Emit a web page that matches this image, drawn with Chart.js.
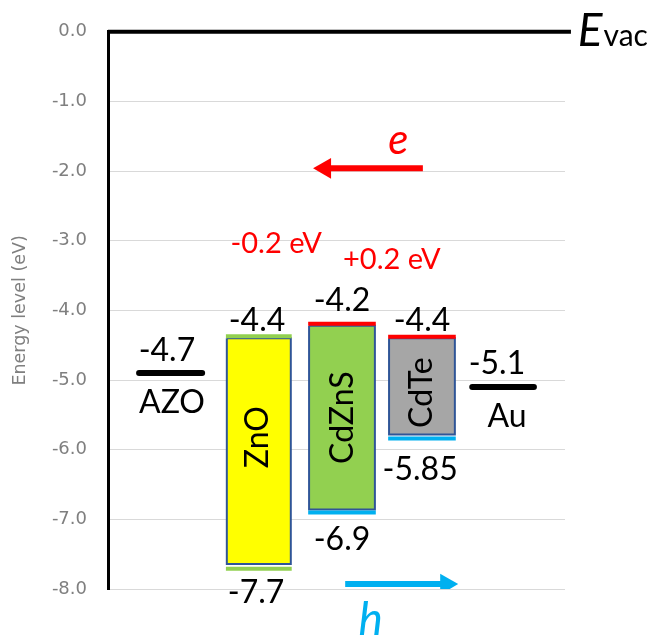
<!DOCTYPE html>
<html>
<head>
<meta charset="utf-8">
<script src="https://cdn.jsdelivr.net/npm/chart.js@4.4.1/dist/chart.umd.min.js"></script>
<style>
  html, body { margin: 0; padding: 0; background: #fff; }
  #wrap { width: 651px; height: 636px; }
</style>
</head>
<body>
<div id="wrap"><canvas id="bands" width="651" height="636"></canvas></div>
<script>
"use strict";

// layers, left to right
var materials = ['AZO', 'ZnO', 'CdZnS', 'CdTe', 'Au'];
var xFrom = [0.68, 2.6, 4.4, 6.15, 7.97];
var xTo = [2.06, 4.0, 5.84, 7.59, 9.32];
// levels as drawn (eV)
var upperLevel = [-4.9, -4.4, -4.22, -4.4, -5.1];
var lowerLevel = [null, -7.64, -6.86, -5.78, null];
var upperEdge = [null, -4.37, -4.19, -4.38, null];
var lowerEdge = [null, -7.71, -6.9, -5.84, null];
// printed values
var upperText = ['-4.7', '-4.4', '-4.2', '-4.4', '-5.1'];
var lowerText = ['AZO', '-7.7', '-6.9', '-5.85', 'Au'];
var offsetText = ['-0.2 eV', '+0.2 eV'];
// axis
var yMin = -8, yMax = 0, yStep = 1;
var vacuumLevel = 0;
// carrier arrows: [tail, head]
var electronX = [6.89, 4.75], electronY = -1.96;
var holeX = [5.19, 7.40], holeY = -7.93;

var fillColors = [null, '#FFFF00', '#92D050', '#A6A6A6', null];
var upperEdgeColors = [null, '#92D050', '#FF0000', '#FF0000', null];
var lowerEdgeColors = [null, '#92D050', '#00B0F0', '#00B0F0', null];

var datasets = [];

// vacuum level
datasets.push({
  data: [{x: 0, y: vacuumLevel}, {x: 10.13, y: vacuumLevel}],
  borderColor: '#000', borderWidth: 4, pointRadius: 0, clip: false, order: 0
});

materials.forEach(function (m, i) {
  if (lowerLevel[i] == null) {
    // metal / TCO work function
    datasets.push({
      data: [{x: xFrom[i], y: upperLevel[i]}, {x: xTo[i], y: upperLevel[i]}],
      borderColor: '#000', borderWidth: 6, borderCapStyle: 'round',
      pointRadius: 0, order: 1
    });
    return;
  }
  datasets.push({
    data: [
      {x: xFrom[i], y: upperLevel[i]}, {x: xTo[i], y: upperLevel[i]},
      {x: xTo[i], y: lowerLevel[i]}, {x: xFrom[i], y: lowerLevel[i]},
      {x: xFrom[i], y: upperLevel[i]}
    ],
    fill: 'shape', backgroundColor: fillColors[i],
    borderColor: '#2F5597', borderWidth: 2, pointRadius: 0, order: 3
  });
  datasets.push({
    data: [{x: xFrom[i] - 0.02, y: upperEdge[i]}, {x: xTo[i] + 0.02, y: upperEdge[i]}],
    borderColor: upperEdgeColors[i], borderWidth: 4, pointRadius: 0, order: 2
  });
  datasets.push({
    data: [{x: xFrom[i] - 0.02, y: lowerEdge[i]}, {x: xTo[i] + 0.02, y: lowerEdge[i]}],
    borderColor: lowerEdgeColors[i], borderWidth: 4, pointRadius: 0, order: 2
  });
});

// arrows
[[electronX, electronY, '#FF0000', 270], [holeX, holeY, '#00B0F0', 90]].forEach(function (a) {
  datasets.push({
    data: [{x: a[0][0], y: a[1]}, {x: a[0][1], y: a[1]}],
    borderColor: a[2], borderWidth: 6, borderCapStyle: 'butt',
    pointRadius: [0, 12], pointStyle: 'triangle', rotation: [0, a[3]],
    pointBackgroundColor: a[2], pointBorderWidth: 0, pointBorderColor: a[2],
    order: 0
  });
});

var numFont = '32px Lato';
var notes = [
  {text: upperText[0], x: 1.29, y: -4.72, font: numFont},
  {text: lowerText[0], x: 1.40, y: -5.47, font: numFont},
  {text: upperText[1], x: 3.26, y: -4.29, font: numFont},
  {text: upperText[2], x: 5.12, y: -4.01, font: numFont},
  {text: upperText[3], x: 6.87, y: -4.29, font: numFont},
  {text: upperText[4], x: 8.51, y: -4.91, font: numFont},
  {text: lowerText[4], x: 8.73, y: -5.68, font: numFont},
  {text: lowerText[1], x: 3.24, y: -8.20, font: numFont},
  {text: lowerText[2], x: 5.12, y: -7.44, font: numFont},
  {text: lowerText[3], x: 6.83, y: -6.44, font: numFont},
  {text: offsetText[0], x: 3.68, y: -3.18, font: '29px Lato', color: '#FF0000'},
  {text: offsetText[1], x: 6.21, y: -3.41, font: '29px Lato', color: '#FF0000'},
  {text: materials[1], x: 3.28, y: -5.82, font: numFont, rotate: -Math.PI / 2, baseline: 'middle'},
  {text: materials[2], x: 5.14, y: -5.54, font: numFont, rotate: -Math.PI / 2, baseline: 'middle'},
  {text: materials[3], x: 6.87, y: -5.18, font: numFont, rotate: -Math.PI / 2, baseline: 'middle'},
  {text: 'e', x: 6.35, y: -1.76, font: 'italic 42px Lato', color: '#FF0000'},
  {text: 'h', x: 5.75, y: -8.66, font: 'italic 46px Lato', color: '#00B0F0'}
];

var labelPlugin = {
  id: 'bandLabels',
  afterDatasetsDraw: function (chart) {
    var ctx = chart.ctx, xs = chart.scales.x, ys = chart.scales.y;
    notes.forEach(function (n) {
      ctx.save();
      ctx.font = n.font;
      ctx.fillStyle = n.color || '#000';
      ctx.textAlign = 'center';
      ctx.textBaseline = n.baseline || 'alphabetic';
      ctx.translate(xs.getPixelForValue(n.x), ys.getPixelForValue(n.y));
      if (n.rotate) {
        ctx.rotate(n.rotate);
      }
      ctx.fillText(n.text, 0, 0);
      ctx.restore();
    });
    // E_vac
    var ex = xs.getPixelForValue(10.28), ey = ys.getPixelForValue(vacuumLevel - 0.21);
    ctx.save();
    ctx.fillStyle = '#000';
    ctx.textAlign = 'left';
    ctx.textBaseline = 'alphabetic';
    ctx.font = 'italic 46px Lato';
    ctx.fillText('E', ex, ey);
    var w = ctx.measureText('E').width;
    ctx.font = '30px Lato';
    ctx.fillText('vac', ex + w + 1, ey);
    ctx.restore();
  }
};

new Chart(document.getElementById('bands').getContext('2d'), {
  type: 'line',
  data: { datasets: datasets },
  plugins: [labelPlugin],
  options: {
    responsive: false,
    animation: false,
    events: [],
    layout: { padding: { top: 30, right: 86, bottom: 47, left: 0 } },
    plugins: { legend: { display: false }, tooltip: { enabled: false } },
    scales: {
      x: { type: 'linear', min: 0, max: 10, display: false },
      y: {
        type: 'linear', min: yMin, max: yMax,
        afterFit: function (s) { s.width = 108; },
        ticks: {
          stepSize: yStep, padding: 21, color: '#7F7F7F',
          font: { family: 'DejaVu Sans', size: 18 },
          callback: function (v) { return v.toFixed(1); }
        },
        grid: { color: '#D9D9D9', lineWidth: 1, drawTicks: false },
        border: { display: true, color: '#000', width: 3 },
        title: {
          display: true, text: 'Energy level (eV)', color: '#7F7F7F',
          font: { family: 'DejaVu Sans', size: 17.5 },
          padding: { top: 10, bottom: 0 }
        }
      }
    }
  }
});
</script>
</body>
</html>
